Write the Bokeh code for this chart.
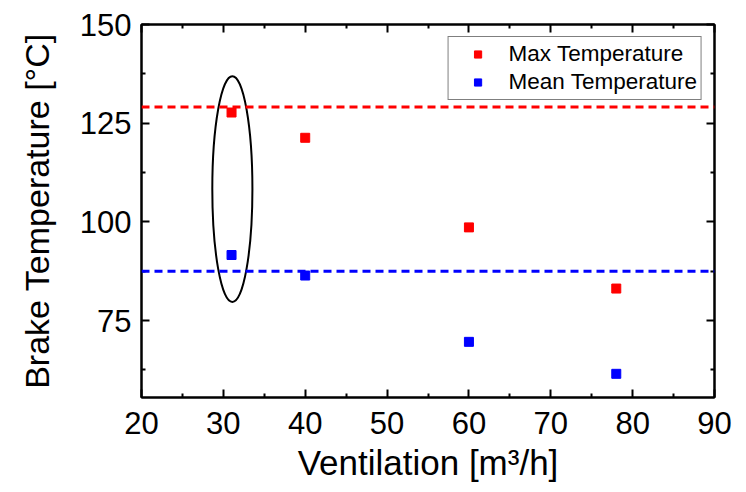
from bokeh.plotting import figure
from bokeh.models import LinearAxis, FixedTicker, Span, Range1d, Legend, LegendItem, CustomJSTickFormatter
from bokeh.embed import file_html
from bokeh.resources import INLINE

# Data
ventilation = [31, 40, 60, 78]
max_temperature = [127.7, 121.3, 98.6, 83.1]
mean_temperature = [91.6, 86.4, 69.6, 61.5]
max_reference = 129.1
mean_reference = 87.5

x_ticks = [20, 30, 40, 50, 60, 70, 80, 90]
x_minor = [25, 35, 45, 55, 65, 75, 85]
y_ticks = [75, 100, 125, 150]
y_minor = [62.5, 87.5, 112.5, 137.5]

# Highlight ellipse (data units)
ellipse_x = [31.1]
ellipse_y = [108.3]
ellipse_w = 4.9
ellipse_h = 57.2

FONT = "Liberation Sans"

p = figure(
    output_backend="svg", toolbar_location=None,
    frame_width=573, frame_height=373,
    min_border_left=141, min_border_right=30, min_border_top=24, min_border_bottom=94,
    x_range=Range1d(20, 90), y_range=Range1d(55.5, 150),
    background_fill_color="white", border_fill_color="white",
)
p.grid.visible = False
p.outline_line_color = "black"
p.outline_line_width = 2

def style(ax, labels=True):
    ax.axis_line_color = "black"
    ax.axis_line_width = 2
    ax.major_tick_in = 8
    ax.major_tick_out = 0
    ax.minor_tick_in = 4
    ax.minor_tick_out = 0
    ax.major_tick_line_width = 2
    ax.minor_tick_line_width = 2
    ax.major_tick_line_color = "black"
    ax.minor_tick_line_color = "black"
    ax.major_label_text_font = FONT
    ax.major_label_text_color = "black"
    ax.axis_label_text_font = FONT
    ax.axis_label_text_font_style = "normal"
    ax.axis_label_text_color = "black"
    if not labels:
        ax.formatter = CustomJSTickFormatter(code="return '';")
        ax.major_label_standoff = 0

xa = p.xaxis[0]
ya = p.yaxis[0]
xa.ticker = FixedTicker(ticks=x_ticks, minor_ticks=x_minor)
ya.ticker = FixedTicker(ticks=y_ticks, minor_ticks=y_minor)
style(xa)
style(ya)
xa.major_label_text_font_size = "31px"
ya.major_label_text_font_size = "31px"
xa.axis_label = "Ventilation [m³/h]"
ya.axis_label = "Brake Temperature [°C]"
xa.axis_label_text_font_size = "35px"
ya.axis_label_text_font_size = "34px"
xa.major_label_standoff = 14
ya.major_label_standoff = 10
xa.axis_label_standoff = 6
ya.axis_label_standoff = 21

top = LinearAxis(ticker=FixedTicker(ticks=x_ticks, minor_ticks=x_minor))
right = LinearAxis(ticker=FixedTicker(ticks=y_ticks, minor_ticks=y_minor))
style(top, labels=False)
style(right, labels=False)
p.add_layout(top, "above")
p.add_layout(right, "right")

p.add_layout(Span(location=max_reference, dimension="width", line_color="#ff0000",
                  line_width=3, line_dash="8 5"))
p.add_layout(Span(location=mean_reference, dimension="width", line_color="#0000ff",
                  line_width=3, line_dash="8 5"))

p.ellipse(x=ellipse_x, y=ellipse_y, width=ellipse_w, height=ellipse_h,
          fill_color=None, line_color="black", line_width=2)

r_max = p.scatter(ventilation, max_temperature, marker="square", size=9,
                  fill_color="#ff0000", line_color="#ff0000")
r_mean = p.scatter(ventilation, mean_temperature, marker="square", size=9,
                   fill_color="#0000ff", line_color="#0000ff")

legend = Legend(items=[LegendItem(label="Max Temperature", renderers=[r_max]),
                       LegendItem(label="Mean Temperature", renderers=[r_mean])],
                location="top_right")
legend.margin = 12
legend.padding = 4
legend.glyph_width = 50
legend.glyph_height = 18
legend.label_height = 24
legend.spacing = 2
legend.label_standoff = 6
legend.label_text_font = FONT
legend.label_text_font_size = "22.5px"
legend.label_text_color = "black"
legend.border_line_color = "black"
legend.border_line_width = 1.5
legend.background_fill_color = "white"
legend.background_fill_alpha = 1
p.add_layout(legend)

open("out.html", "w").write(file_html(p, INLINE))
